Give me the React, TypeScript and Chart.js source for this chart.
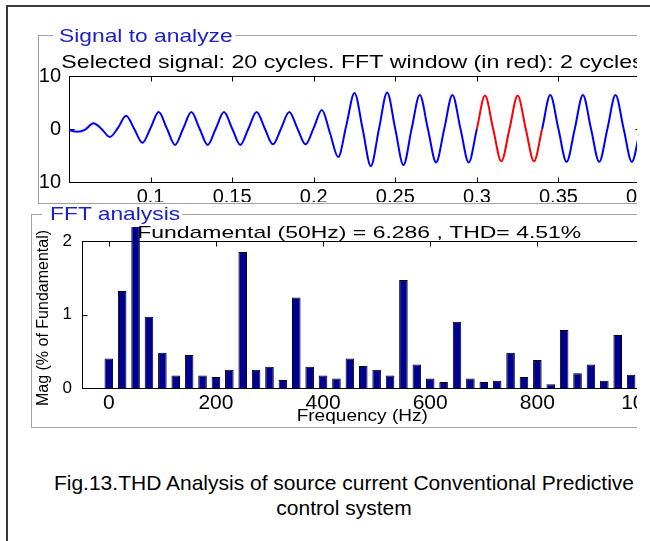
import React, { useEffect, useRef } from "react";
import { Chart, registerables } from "chart.js";

Chart.register(...registerables);

const FONT = "'Liberation Sans', Arial, Helvetica, sans-serif";

// ---------- Signal to analyze (time in s, current in A) ----------
const signalTime = [
  0.05, 0.055, 0.06, 0.065, 0.07, 0.075, 0.08, 0.085, 0.09, 0.095,
  0.1, 0.105, 0.11, 0.115, 0.12, 0.125, 0.13, 0.135, 0.14, 0.145,
  0.15, 0.155, 0.16, 0.165, 0.17, 0.175, 0.18, 0.185, 0.19, 0.195,
  0.2, 0.205, 0.21, 0.215, 0.22, 0.225, 0.23, 0.235, 0.24, 0.245,
  0.25, 0.255, 0.26, 0.265, 0.27, 0.275, 0.28, 0.285, 0.29, 0.295,
  0.3, 0.305, 0.31, 0.315, 0.32, 0.325, 0.33, 0.335, 0.34, 0.345,
  0.35, 0.355, 0.36, 0.365, 0.37, 0.375, 0.38, 0.385, 0.39, 0.395,
  0.4,
];
const signalValue = [
  -0.2, -0.5, -0.1, 1.1, 0.0, -1.5, 0.2, 2.5, 0.0, -2.6,
  0.2, 3.2, 0.1, -3.0, 0.1, 3.2, 0.1, -3.0, 0.1, 3.2,
  0.1, -3.0, 0.1, 3.2, 0.1, -2.9, 0.1, 3.2, 0.1, -2.9,
  0.2, 3.6, -0.8, -5.3, 0.7, 6.8, 0.0, -7.0, 0.0, 6.9,
  0.0, -6.8, 0.0, 6.4, 0.0, -6.3, 0.0, 6.4, 0.0, -6.3,
  0.0, 6.3, 0.0, -6.1, 0.0, 6.3, 0.0, -6.1, 0.0, 6.4,
  0.0, -6.2, 0.0, 6.4, 0.0, -6.2, 0.0, 6.4, 0.0, -6.2,
  -0.2,
];
const fftWindowStart = 0.3;
const fftWindowEnd = 0.34;
const signalXMin = 0.05;
const signalXMax = 0.4;
const signalXStep = 0.05;
const signalYMin = -10;
const signalYMax = 10;
const signalYStep = 10;

// ---------- FFT analysis ----------
const fftFreq = [
  0, 25, 50, 75, 100, 125, 150, 175, 200, 225,
  250, 275, 300, 325, 350, 375, 400, 425, 450, 475,
  500, 525, 550, 575, 600, 625, 650, 675, 700, 725,
  750, 775, 800, 825, 850, 875, 900, 925, 950, 975,
];
const fftMag = [
  0.4, 1.32, 100, 0.97, 0.48, 0.17, 0.45, 0.17, 0.15, 0.25,
  1.85, 0.25, 0.29, 0.11, 1.23, 0.29, 0.17, 0.13, 0.4, 0.3,
  0.25, 0.17, 1.47, 0.32, 0.13, 0.08, 0.9, 0.13, 0.08, 0.1,
  0.48, 0.15, 0.38, 0.05, 0.79, 0.2, 0.32, 0.1, 0.72, 0.18,
];
const fftXMin = -50;
const fftXMax = 1000;
const fftXStep = 200;
const fftYMin = 0;
const fftYMax = 2;
const fftYStep = 1;

const upperTitle = "Selected signal: 20 cycles. FFT window (in red): 2 cycles";
const lowerTitle = "Fundamental (50Hz) = 6.286 , THD= 4.51%";
const lowerXTitle = "Frequency (Hz)";
const lowerYTitle = "Mag (% of Fundamental)";

const plainNumber = (v: any) => String(Number(Number(v).toFixed(4)));

type TextItem = {
  text: string;
  size: number;
  sx?: number;
  rotate?: boolean;
  layer: "under" | "over";
  at: (a: any) => [number, number];
};

function drawTexts(ctx: CanvasRenderingContext2D, area: any, items: TextItem[]) {
  for (const t of items) {
    const [x, y] = t.at(area);
    ctx.save();
    ctx.font = `${t.size}px ${FONT}`;
    ctx.fillStyle = "#000";
    ctx.textAlign = "center";
    ctx.translate(x, y);
    if (t.rotate) {
      ctx.rotate(-Math.PI / 2);
      ctx.textBaseline = "middle";
    } else {
      ctx.textBaseline = "alphabetic";
      ctx.scale(t.sx || 1, 1);
    }
    ctx.fillText(t.text, 0, 0);
    ctx.restore();
  }
}

function matlabAxes(id: string, tickLen: number, texts: TextItem[]) {
  return {
    id,
    beforeDatasetsDraw(chart: any) {
      const { ctx, chartArea: a, scales } = chart;
      const L = Math.round(a.left) + 0.5;
      const R = Math.round(a.right) + 0.5;
      const T = Math.round(a.top) + 0.5;
      const B = Math.round(a.bottom) + 0.5;
      ctx.save();
      ctx.strokeStyle = "#000";
      ctx.lineWidth = 1;
      ctx.strokeRect(L, T, R - L, B - T);
      ctx.beginPath();
      for (const tk of scales.x.ticks) {
        const p = Math.round(scales.x.getPixelForValue(tk.value)) + 0.5;
        ctx.moveTo(p, B);
        ctx.lineTo(p, B - tickLen);
        ctx.moveTo(p, T);
        ctx.lineTo(p, T + tickLen);
      }
      for (const tk of scales.y.ticks) {
        const p = Math.round(scales.y.getPixelForValue(tk.value)) + 0.5;
        ctx.moveTo(L, p);
        ctx.lineTo(L + tickLen, p);
        ctx.moveTo(R, p);
        ctx.lineTo(R - tickLen, p);
      }
      ctx.stroke();
      ctx.restore();
      drawTexts(ctx, a, texts.filter((t) => t.layer === "under"));
    },
    afterDraw(chart: any) {
      drawTexts(chart.ctx, chart.chartArea, texts.filter((t) => t.layer === "over"));
    },
  };
}

export default function App() {
  const upperRef = useRef<HTMLCanvasElement | null>(null);
  const lowerRef = useRef<HTMLCanvasElement | null>(null);

  useEffect(() => {
    Chart.defaults.font.family = FONT;
    Chart.defaults.color = "#000";

    const upper = new Chart(upperRef.current as HTMLCanvasElement, {
      type: "line",
      data: {
        datasets: [
          {
            data: signalTime.map((t, i) => ({ x: t, y: signalValue[i] })),
            borderColor: "#0000ff",
            borderWidth: 2,
            pointRadius: 0,
            cubicInterpolationMode: "monotone",
            segment: {
              borderColor: (c: any) =>
                c.p0.parsed.x >= fftWindowStart - 1e-9 && c.p1.parsed.x <= fftWindowEnd + 1e-9
                  ? "#ff0000"
                  : undefined,
            },
          } as any,
        ],
      },
      options: {
        animation: false,
        responsive: false,
        layout: { padding: { top: 40, right: 39, left: 0, bottom: 0 } },
        plugins: { legend: { display: false }, tooltip: { enabled: false }, title: { display: false } },
        scales: {
          x: {
            type: "linear",
            min: signalXMin,
            max: signalXMax,
            offset: false,
            grid: { display: false, drawTicks: false },
            border: { display: false },
            ticks: {
              stepSize: signalXStep,
              font: { size: 20 },
              padding: 3,
              maxRotation: 0,
              autoSkip: false,
              color: "#000",
              callback: plainNumber,
            },
            afterBuildTicks: (s: any) => {
              s.ticks = s.ticks.filter((t: any) => t.value > signalXMin + 1e-6);
            },
            afterFit: (s: any) => {
              s.height = 20;
            },
          },
          y: {
            min: signalYMin,
            max: signalYMax,
            grid: { display: false, drawTicks: false },
            border: { display: false },
            ticks: { stepSize: signalYStep, font: { size: 20 }, padding: 8, color: "#000", callback: plainNumber },
            afterFit: (s: any) => {
              s.width = 30;
            },
          },
        },
      } as any,
      plugins: [
        matlabAxes("upperAxes", 5, [
          { text: upperTitle, size: 19, sx: 1.22, layer: "under", at: (a) => [(a.left + a.right) / 2 - 2, a.top - 8] },
        ]),
      ],
    });

    const lower = new Chart(lowerRef.current as HTMLCanvasElement, {
      type: "bar",
      data: {
        datasets: [
          {
            data: fftFreq.map((f, i) => ({ x: f, y: fftMag[i] })),
            backgroundColor: "#000090",
            borderColor: "#000000",
            borderWidth: 1,
            barPercentage: 0.64,
            categoryPercentage: 1,
            clip: { left: 0, top: 14, right: 0, bottom: 0 },
          } as any,
        ],
      },
      options: {
        animation: false,
        responsive: false,
        layout: { padding: { top: 26, right: 67.5, left: 0, bottom: 0 } },
        plugins: { legend: { display: false }, tooltip: { enabled: false }, title: { display: false } },
        scales: {
          x: {
            type: "linear",
            min: fftXMin,
            max: fftXMax,
            offset: false,
            grid: { display: false, drawTicks: false, offset: false },
            border: { display: false },
            ticks: {
              stepSize: fftXStep,
              includeBounds: false,
              font: { size: 21 },
              padding: 3,
              maxRotation: 0,
              autoSkip: false,
              color: "#000",
              callback: plainNumber,
            },
            afterFit: (s: any) => {
              s.height = 39;
            },
          },
          y: {
            min: fftYMin,
            max: fftYMax,
            grid: { display: false, drawTicks: false },
            border: { display: false },
            ticks: { stepSize: fftYStep, font: { size: 17 }, padding: 10, color: "#000", callback: plainNumber },
            afterFit: (s: any) => {
              s.width = 50;
            },
          },
        },
      } as any,
      plugins: [
        matlabAxes("lowerAxes", 5, [
          { text: lowerTitle, size: 17, sx: 1.35, layer: "under", at: (a) => [(a.left + a.right) / 2 - 4, a.top - 3.5] },
          { text: lowerXTitle, size: 17, sx: 1.12, layer: "over", at: (a) => [(a.left + a.right) / 2 - 1, a.bottom + 33] },
          { text: lowerYTitle, size: 16, rotate: true, layer: "over", at: (a) => [a.left - 38, a.top + 77] },
        ]),
      ],
    });

    return () => {
      upper.destroy();
      lower.destroy();
    };
  }, []);

  const panelBorder = "1px solid #a0a0a0";
  const panelTitle: React.CSSProperties = {
    position: "absolute",
    height: 19,
    lineHeight: "19px",
    fontSize: 19,
    color: "#2020c8",
    background: "#fff",
    transform: "scaleX(1.2)",
    transformOrigin: "left top",
    whiteSpace: "nowrap",
  };

  return (
    <div
      style={{
        position: "absolute",
        left: 0,
        top: 0,
        width: 650,
        height: 541,
        background: "#fff",
        overflow: "hidden",
        fontFamily: FONT,
      }}
    >
      <div
        style={{
          position: "absolute",
          left: 6,
          top: 5,
          width: 700,
          height: 600,
          borderTop: "2px solid #3a3a3a",
          borderLeft: "2px solid #3a3a3a",
        }}
      />
      <div style={{ position: "absolute", left: 0, top: 0, width: 637, height: 541, overflow: "hidden" }}>
        <div
          style={{
            position: "absolute",
            left: 38,
            top: 35,
            width: 700,
            height: 169,
            boxSizing: "border-box",
            borderTop: panelBorder,
            borderLeft: panelBorder,
            borderBottom: panelBorder,
            overflow: "hidden",
          }}
        >
          <canvas
            ref={upperRef}
            width={640}
            height={166}
            style={{ position: "absolute", left: 0, top: 0, width: 640, height: 166 }}
          />
        </div>
        <span style={{ ...panelTitle, left: 53, top: 26, padding: "0 2px 0 5px" }}>Signal to analyze</span>

        <div
          style={{
            position: "absolute",
            left: 31,
            top: 214,
            width: 700,
            height: 214,
            boxSizing: "border-box",
            borderTop: panelBorder,
            borderLeft: panelBorder,
            borderBottom: panelBorder,
            overflow: "hidden",
          }}
        >
          <canvas
            ref={lowerRef}
            width={680}
            height={212}
            style={{ position: "absolute", left: 0, top: 0, width: 680, height: 212 }}
          />
        </div>
        <span style={{ ...panelTitle, left: 42, top: 204, padding: "0 2px 0 6.7px" }}>FFT analysis</span>
      </div>

      <div
        style={{
          position: "absolute",
          left: 44,
          top: 470,
          width: 600,
          textAlign: "center",
          fontSize: 21,
          lineHeight: "25px",
          color: "#000",
        }}
      >
        Fig.13.THD Analysis of source current Conventional Predictive
        <br />
        control system
      </div>
    </div>
  );
}
